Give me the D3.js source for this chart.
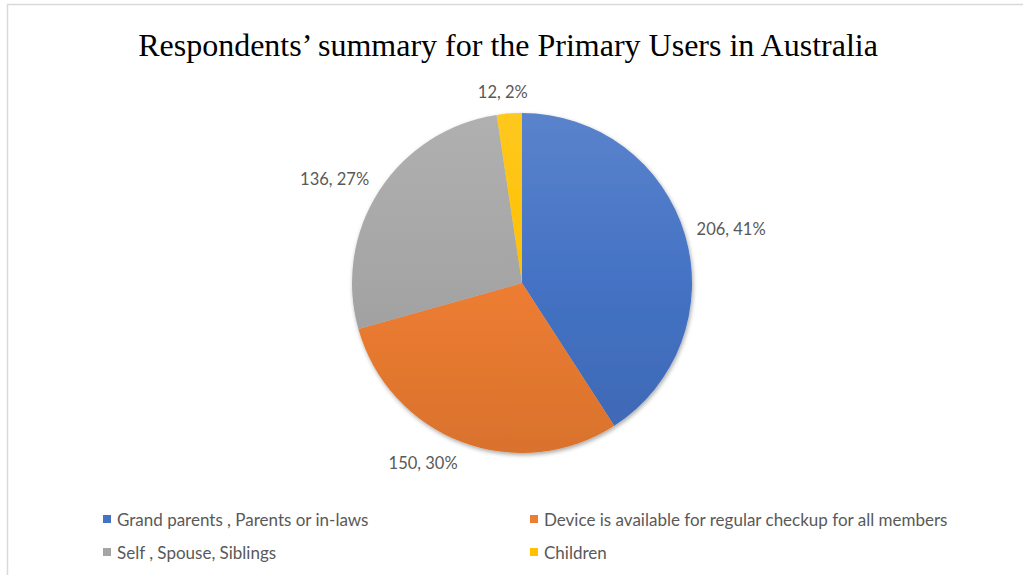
<!DOCTYPE html>
<html>
<head>
<meta charset="utf-8">
<script src="https://cdn.jsdelivr.net/npm/d3@7"></script>
<style>
  html, body { margin: 0; padding: 0; background: #ffffff; }
  svg { display: block; }
</style>
</head>
<body>
<svg id="chart" width="1023" height="575"></svg>
<script>
// Primary users of the device, as reported by respondents in Australia
const categories = [
  "Grand parents , Parents or in-laws",
  "Device is available for regular checkup for all members",
  "Self , Spouse, Siblings",
  "Children"
];
const counts = [206, 150, 136, 12];
const percentLabels = ["41%", "30%", "27%", "2%"];
const baseColors = ["#4472C4", "#ED7D31", "#A5A5A5", "#FFC000"];
const titleText = "Respondents\u2019 summary for the Primary Users in Australia";

const width = 1023, height = 575;
const cx = 522, cy = 283, radius = 170;

const svg = d3.select("#chart");

// Chart area frame (light grey border)
svg.append("rect")
  .attr("x", 7.5).attr("y", 4.5)
  .attr("width", width + 10).attr("height", height + 10)
  .attr("fill", "#ffffff")
  .attr("stroke", "#d9d9d9")
  .attr("stroke-width", 1.5);

// Title
svg.append("text")
  .attr("x", 508).attr("y", 56)
  .attr("text-anchor", "middle")
  .attr("font-family", "'Liberation Serif', 'Times New Roman', serif")
  .attr("font-size", 32)
  .attr("fill", "#000000")
  .text(titleText);

const defs = svg.append("defs");

// Soft shadow under the pie
const shadow = defs.append("filter").attr("id", "pieShadow")
  .attr("x", "-20%").attr("y", "-20%").attr("width", "140%").attr("height", "140%");
shadow.append("feDropShadow")
  .attr("dx", 1).attr("dy", 2).attr("stdDeviation", 2)
  .attr("flood-color", "#000000").attr("flood-opacity", 0.35);

// Vertical shading per slice: lighter at the top, deeper at the bottom
baseColors.forEach((c, i) => {
  const g = defs.append("linearGradient")
    .attr("id", "grad" + i)
    .attr("gradientUnits", "userSpaceOnUse")
    .attr("x1", 0).attr("y1", -radius)
    .attr("x2", 0).attr("y2", radius);
  const base = d3.color(c);
  g.append("stop").attr("offset", "0%").attr("stop-color", d3.interpolateRgb(base, "#ffffff")(0.12));
  g.append("stop").attr("offset", "50%").attr("stop-color", base.formatHex());
  g.append("stop").attr("offset", "100%").attr("stop-color", base.darker(0.25).formatHex());
});

const pie = d3.pie().sort(null).value(d => d)(counts);
const arc = d3.arc().innerRadius(0).outerRadius(radius);

const pieG = svg.append("g")
  .attr("transform", `translate(${cx},${cy})`);

pieG.append("g")
  .attr("filter", "url(#pieShadow)")
  .selectAll("path")
  .data(pie)
  .join("path")
  .attr("d", arc)
  .attr("fill", (d, i) => `url(#grad${i})`);

// Data labels outside the pie
const labelFont = "'Lato', 'Carlito', 'Open Sans', sans-serif";
const labelG = pieG.append("g");
pie.forEach((d, i) => {
  const a = (d.startAngle + d.endAngle) / 2;
  const sx = Math.sin(a), sy = -Math.cos(a);
  const r0 = radius + 12;
  const t = labelG.append("text")
    .attr("font-family", labelFont)
    .attr("font-size", 16.5)
    .attr("fill", "#595959")
    .attr("text-anchor", "middle")
    .attr("dominant-baseline", "central")
    .text(`${counts[i]}, ${percentLabels[i]}`);
  const bb = t.node().getBBox();
  const push = Math.max(-1, Math.min(1, sx * 3));
  const x = r0 * sx + (bb.width / 2) * push;
  const y = r0 * sy + (bb.height / 2) * sy;
  t.attr("x", x).attr("y", y);
});

// Legend: two columns, two rows
const legendCols = [103, 530];
const legendRows = [519, 552];
const legend = svg.append("g");
categories.forEach((name, i) => {
  const col = i % 2, row = Math.floor(i / 2);
  const g = legend.append("g")
    .attr("transform", `translate(${legendCols[col]},${legendRows[row]})`);
  g.append("rect")
    .attr("x", 0).attr("y", -4).attr("width", 8).attr("height", 8)
    .attr("fill", baseColors[i]);
  g.append("text")
    .attr("x", 14).attr("y", 0)
    .attr("dominant-baseline", "central")
    .attr("font-family", labelFont)
    .attr("font-size", 17)
    .attr("fill", "#595959")
    .text(name);
});
</script>
</body>
</html>
